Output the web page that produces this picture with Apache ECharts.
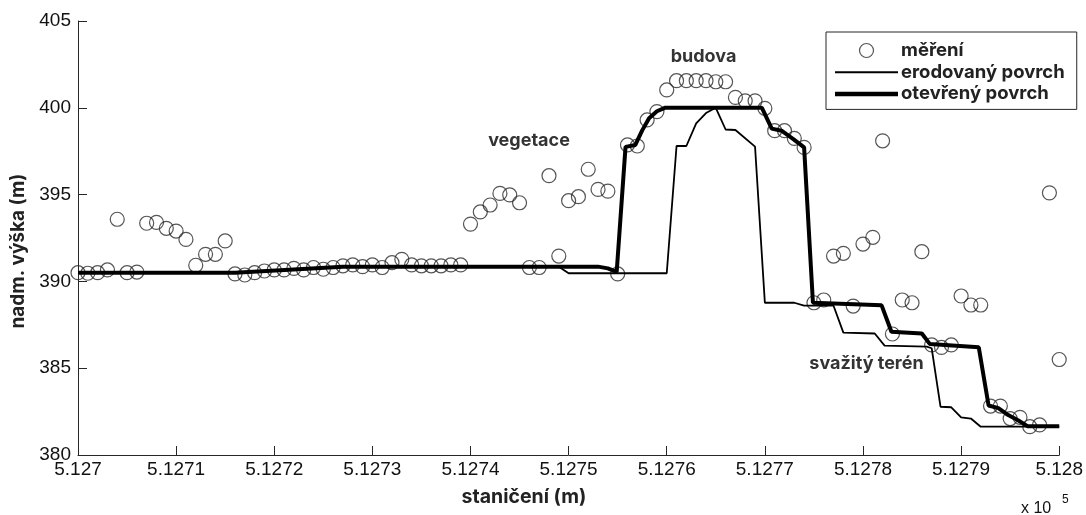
<!DOCTYPE html>
<html>
<head>
<meta charset="utf-8">
<script src="https://cdn.jsdelivr.net/npm/echarts@6/dist/echarts.min.js"></script>
<style>html,body{margin:0;padding:0;background:#fff}#c{width:1086px;height:515px}</style>
</head>
<body>
<div id="c"></div>
<script>
// stationing start (m) and measured heights, one per metre
const xStart = 512700;
const measured = [
  390.5, 390.47, 390.5, 390.66, 393.58, 390.5, 390.54, 393.35, 393.4, 393.06,
  392.9, 392.42, 390.93, 391.56, 391.56, 392.33, 390.43, 390.37, 390.5, 390.6,
  390.66, 390.66, 390.75, 390.66, 390.8, 390.7, 390.8, 390.9, 390.95, 390.85,
  390.95, 390.8, 391.08, 391.27, 390.95, 390.9, 390.9, 390.9, 390.95, 390.95,
  393.3, 394.0, 394.4, 395.07, 394.98, 394.53, 390.8, 390.8, 396.09, 391.46,
  394.65, 394.88, 396.46, 395.3, 395.2, 390.43, 397.86, 397.8, 399.3, 399.78,
  401.03, 401.56, 401.56, 401.56, 401.56, 401.5, 401.5, 400.6, 400.4, 400.4,
  399.97, 398.68, 398.68, 398.24, 397.72, 388.77, 388.93, 391.46, 391.62, 388.58,
  392.15, 392.54, 398.1, 386.97, 388.93, 388.77, 391.71, 386.34, 386.2, 386.34,
  389.16, 388.64, 388.64, 382.82, 382.82, 382.1, 382.17, 381.63, 381.73, 395.1,
  385.5
];
// opened surface (thick) vertices [station, height]
const openedSurface = [
  [512700,390.5],[512716,390.5],[512727,390.85],[512753,390.85],[512754,390.75],
  [512754.9,390.55],[512755.8,397.75],[512756.8,397.86],[512757.5,398.7],[512758.2,399.4],
  [512759,399.8],[512759.8,400],[512769.7,400],[512770.7,398.8],[512771.7,398.68],
  [512772.9,398.2],[512774,397.72],[512774.9,388.77],[512781.9,388.62],[512782.9,387.1],
  [512786,387.0],[512786.8,386.4],[512791.8,386.2],[512792.8,382.85],[512793.8,382.7],
  [512794.8,382.3],[512795.8,382.0],[512796.8,381.65],[512800,381.65]
];
// eroded surface (thin) vertices [station, height]
const erodedSurface = [
  [512700,390.5],[512716,390.5],[512727,390.85],[512749,390.85],[512750,390.47],
  [512760,390.47],[512761,397.8],[512762,397.8],[512763,399.1],[512764,399.7],
  [512765,400],[512766,398.75],[512767,398.72],[512769,397.76],[512770,388.77],
  [512773,388.77],[512774,388.6],[512777,388.6],[512778,387.05],[512781.2,387.0],
  [512782.2,386.3],[512786.5,386.24],[512787,386.15],[512787.9,382.78],[512789,382.75],
  [512790,382.17],[512791,382.1],[512792,381.63],[512800,381.63]
];
const xTickLabels = ['5.127','5.1271','5.1272','5.1273','5.1274','5.1275','5.1276','5.1277','5.1278','5.1279','5.128'];
const yTickLabels = ['380','385','390','395','400','405'];
const seriesNames = ['měření','erodovaný povrch','otevřený povrch'];
const annotations = ['budova','vegetace','svažitý terén'];

const measuredPts = measured.map((v,i)=>[xStart+i, v]);
const axisColor = '#262626';
const boldFont = (s)=>'bold '+s+'px Inter';
const chart = echarts.init(document.getElementById('c'), null, {renderer:'canvas'});
chart.setOption({
  animation:false,
  backgroundColor:'#fff',
  grid:{left:78,right:25,top:21,bottom:60},
  xAxis:{
    type:'value', min:512700, max:512800, interval:10,
    axisLine:{lineStyle:{color:axisColor,width:1}},
    axisTick:{inside:true,length:9,lineStyle:{color:axisColor}},
    splitLine:{show:false},
    axisLabel:{color:'#111',fontFamily:'Liberation Sans',fontSize:19,margin:5,
      formatter:(v)=>xTickLabels[Math.round((v-512700)/10)]}
  },
  yAxis:{
    type:'value', min:380, max:405, interval:5,
    axisLine:{show:true,lineStyle:{color:axisColor,width:1}},
    axisTick:{show:true,inside:true,length:9,lineStyle:{color:axisColor}},
    splitLine:{show:false},
    axisLabel:{color:'#111',fontFamily:'Liberation Sans',fontSize:19,margin:7,
      formatter:(v)=>yTickLabels[Math.round((v-380)/5)]}
  },
  legend:{
    data:[
      {name:seriesNames[0],icon:'circle',itemStyle:{color:'rgba(255,255,255,0)',borderColor:'#2a2a2a',borderWidth:1.2}},
      {name:seriesNames[1],icon:'path://M0,0L63,0L63,2L0,2Z',itemStyle:{color:'#000',borderWidth:0}},
      {name:seriesNames[2],icon:'path://M0,0L63,0L63,4.5L0,4.5Z',itemStyle:{color:'#000',borderWidth:0}}
    ],
    orient:'vertical', left:826, top:32,
    padding:[9,12,6,9], itemGap:2.7, itemWidth:63, itemHeight:14,
    borderColor:axisColor, borderWidth:1, backgroundColor:'#fff',
    textStyle:{fontFamily:'Inter',fontWeight:'bold',fontSize:18.5,lineHeight:16,color:'#222',padding:[0,0,0,-2]},
    selectedMode:false
  },
  series:[
    {name:seriesNames[0],type:'scatter',data:measuredPts,symbol:'circle',symbolSize:14,
     itemStyle:{color:'rgba(255,255,255,0)',borderColor:'#2a2a2a',borderWidth:1.2},z:2},
    {name:seriesNames[1],type:'line',data:erodedSurface,symbol:'none',showSymbol:false,
     lineStyle:{color:'#000',width:1.8},z:3},
    {name:seriesNames[2],type:'line',data:openedSurface,symbol:'none',showSymbol:false,
     lineStyle:{color:'#000',width:4},z:4}
  ],
  graphic:[
    {type:'text',x:703.5,y:57,style:{text:annotations[0],font:boldFont(18),fill:'#333',align:'center',verticalAlign:'middle'}},
    {type:'text',x:529,y:141,style:{text:annotations[1],font:boldFont(18),fill:'#333',align:'center',verticalAlign:'middle'}},
    {type:'text',x:866.5,y:364,style:{text:annotations[2],font:boldFont(18),fill:'#333',align:'center',verticalAlign:'middle'}},
    {type:'text',x:524,y:497,style:{text:'staničení (m)',font:boldFont(19.5),fill:'#222',align:'center',verticalAlign:'middle'}},
    {type:'text',x:18,y:251,rotation:Math.PI/2,style:{text:'nadm. výška (m)',font:boldFont(19),fill:'#222',align:'center',verticalAlign:'middle'}},
    {type:'text',left:1021,top:501,style:{text:'x 10',font:'16px Liberation Sans',fill:'#111'}},
    {type:'text',left:1062,top:494,style:{text:'5',font:'12px Liberation Sans',fill:'#111'}}
  ]
});
</script>
</body>
</html>
